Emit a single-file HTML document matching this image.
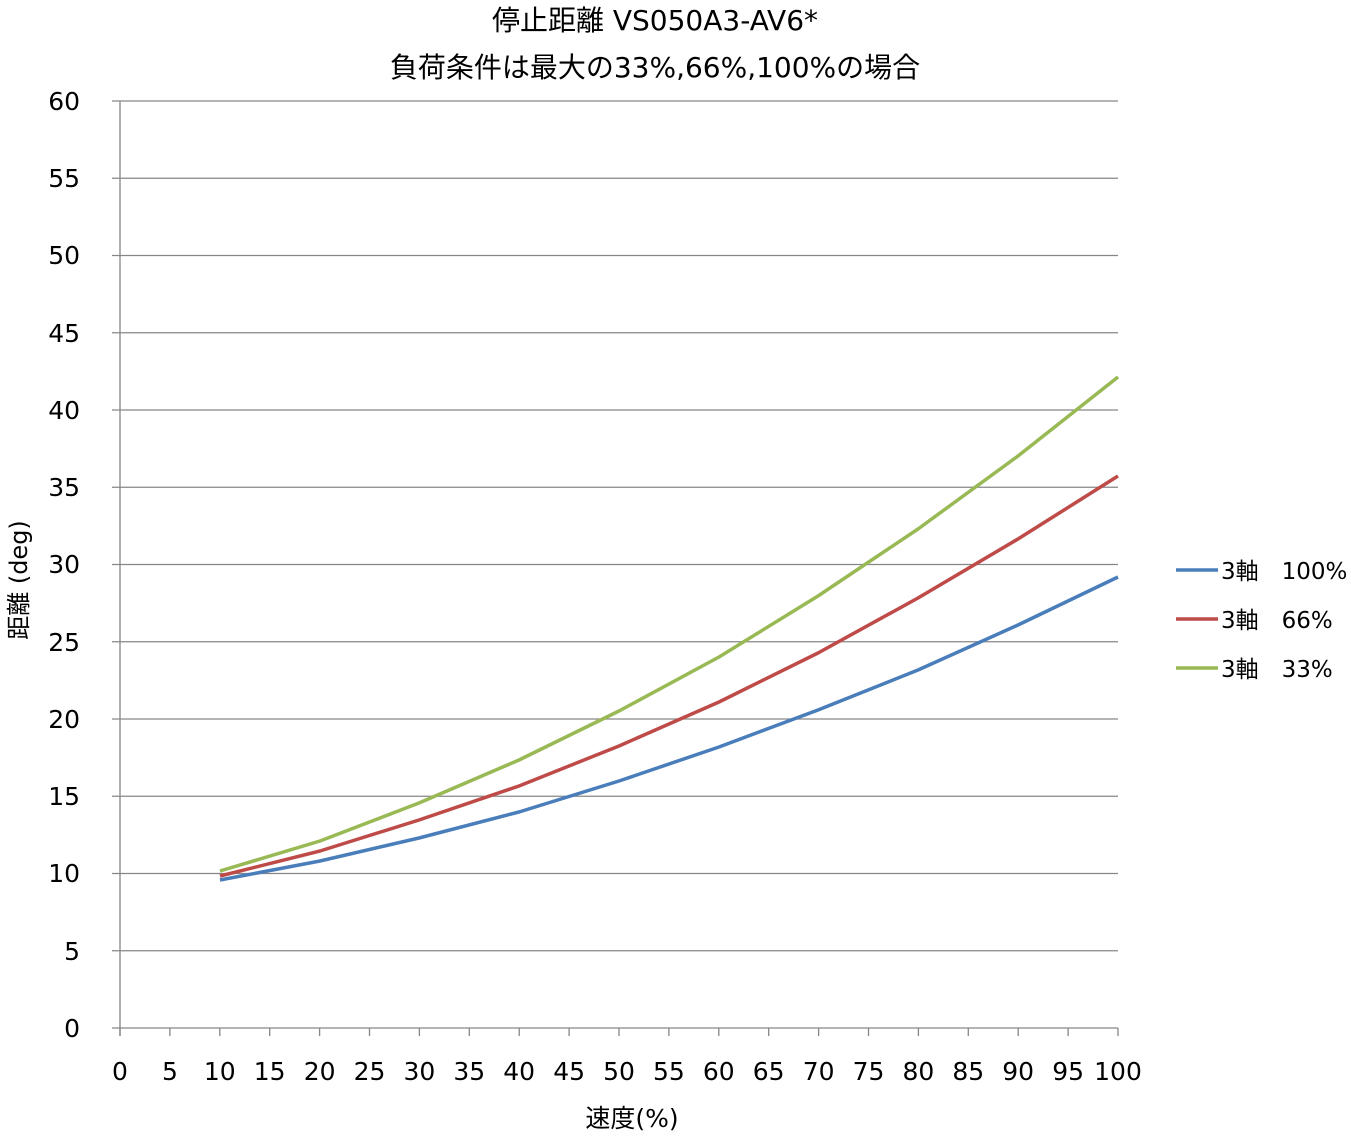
<!DOCTYPE html>
<html><head><meta charset="utf-8"><style>
html,body{margin:0;padding:0;background:#fff;}
svg text{font-family:"DejaVu Sans","Noto Sans CJK JP",sans-serif;fill:#000;}
</style></head><body>
<svg width="1351" height="1133" viewBox="0 0 1351 1133" xmlns="http://www.w3.org/2000/svg">
<rect width="1351" height="1133" fill="#fff"/>
<text x="655" y="30" font-size="28" text-anchor="middle">停止距離 VS050A3-AV6*</text>
<text x="655" y="77" font-size="28" text-anchor="middle">負荷条件は最大の33%,66%,100%の場合</text>
<g stroke="#868686" stroke-width="1.3">
<line x1="112" y1="101" x2="1118" y2="101"/>
<line x1="112" y1="178.25" x2="1118" y2="178.25"/>
<line x1="112" y1="255.5" x2="1118" y2="255.5"/>
<line x1="112" y1="332.75" x2="1118" y2="332.75"/>
<line x1="112" y1="410" x2="1118" y2="410"/>
<line x1="112" y1="487.25" x2="1118" y2="487.25"/>
<line x1="112" y1="564.5" x2="1118" y2="564.5"/>
<line x1="112" y1="641.75" x2="1118" y2="641.75"/>
<line x1="112" y1="719" x2="1118" y2="719"/>
<line x1="112" y1="796.25" x2="1118" y2="796.25"/>
<line x1="112" y1="873.5" x2="1118" y2="873.5"/>
<line x1="112" y1="950.75" x2="1118" y2="950.75"/>
<line x1="112" y1="1028" x2="1118" y2="1028"/>
<line x1="120" y1="101" x2="120" y2="1036"/>
</g>
<g stroke="#868686" stroke-width="1.3" id="xt"></g>
<g font-size="25" text-anchor="end">
<text x="80" y="110">60</text><text x="80" y="187">55</text><text x="80" y="264">50</text><text x="80" y="342">45</text><text x="80" y="419">40</text><text x="80" y="496">35</text><text x="80" y="573">30</text><text x="80" y="651">25</text><text x="80" y="728">20</text><text x="80" y="805">15</text><text x="80" y="882">10</text><text x="80" y="960">5</text><text x="80" y="1037">0</text>
</g>
<g font-size="25" text-anchor="middle" id="xl"></g>
<text x="632" y="1127" font-size="25" text-anchor="middle">速度(%)</text>
<text transform="translate(27,580) rotate(-90)" font-size="24" text-anchor="middle">距離 (deg)</text>
<g fill="none" stroke-width="3.5" stroke-linejoin="round">
<polyline stroke="#4a7ebb" points="220,880 320,861 419,838 519,812 619,781 719,747 818,710 918,670 1018,625 1118,577"/>
<polyline stroke="#be4b48" points="220,876 320,851 419,820 519,786 619,746 719,702 818,653 918,598 1018,539 1118,476"/>
<polyline stroke="#98b954" points="220,871 320,841 419,803 519,760 619,711 719,657 818,596 918,529 1018,456 1118,377"/>
</g>
<g stroke-width="3.5">
<line x1="1176" y1="570" x2="1218" y2="570" stroke="#4a7ebb"/>
<line x1="1176" y1="619" x2="1218" y2="619" stroke="#be4b48"/>
<line x1="1176" y1="668" x2="1218" y2="668" stroke="#98b954"/>
</g>
<g font-size="23">
<text x="1221" y="579">3軸　100%</text>
<text x="1221" y="628">3軸　66%</text>
<text x="1221" y="677">3軸　33%</text>
</g>
<script>
var t=document.getElementById('xt'),l=document.getElementById('xl'),ns='http://www.w3.org/2000/svg';
for(var i=0;i<=20;i++){var x=120+i*49.9;
var ln=document.createElementNS(ns,'line');ln.setAttribute('x1',x);ln.setAttribute('x2',x);ln.setAttribute('y1',1028);ln.setAttribute('y2',1036);t.appendChild(ln);
var tx=document.createElementNS(ns,'text');tx.setAttribute('x',x);tx.setAttribute('y',1080);tx.textContent=i*5;l.appendChild(tx);}
</script>
</svg>
</body></html>
